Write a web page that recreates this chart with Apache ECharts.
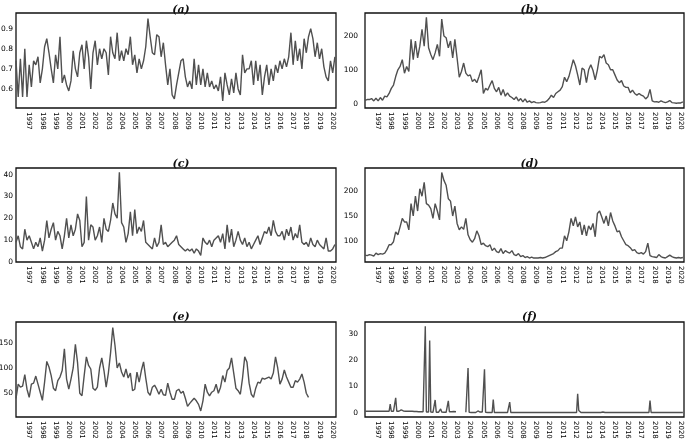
<!DOCTYPE html>
<html><head><meta charset="utf-8">
<script src="https://cdn.jsdelivr.net/npm/echarts@6/dist/echarts.min.js"></script>
<style>html,body{margin:0;padding:0;background:#fff}#c{width:685px;height:440px}</style>
</head><body><div id="c"></div>
<script>
// Time starts Jan 1996; panels a-e are read every two months, panel f monthly.
const START_YEAR = 1996;
const yearLabels = [1997,1998,1999,2000,2001,2002,2003,2004,2005,2006,2007,2008,2009,2010,2011,2012,2013,2014,2015,2016,2017,2018,2019,2020];
const panelTitles = ['(a)','(b)','(c)','(d)','(e)','(f)'];

const seriesA = [
 0.74,0.56,0.75,0.56,0.80,0.56,
 0.72,0.61,0.74,0.72,0.76,0.63,
 0.70,0.81,0.85,0.78,0.70,0.63,
 0.77,0.70,0.86,0.63,0.67,0.62,
 0.59,0.64,0.79,0.70,0.66,0.78,
 0.82,0.70,0.84,0.76,0.60,0.78,
 0.84,0.72,0.80,0.75,0.80,0.78,
 0.67,0.86,0.78,0.75,0.88,0.74,
 0.79,0.74,0.80,0.77,0.86,0.72,
 0.77,0.68,0.75,0.70,0.74,0.81,
 0.95,0.86,0.78,0.77,0.87,0.86,
 0.76,0.83,0.72,0.62,0.70,0.57,
 0.55,0.62,0.68,0.74,0.75,0.66,
 0.61,0.64,0.60,0.75,0.62,0.72,
 0.62,0.70,0.61,0.68,0.61,0.64,
 0.60,0.62,0.59,0.66,0.54,0.68,
 0.62,0.57,0.65,0.58,0.68,0.60,
 0.57,0.77,0.68,0.70,0.70,0.74,
 0.62,0.74,0.64,0.72,0.57,0.66,
 0.72,0.62,0.70,0.64,0.72,0.68,
 0.74,0.70,0.75,0.71,0.76,0.88,
 0.72,0.84,0.74,0.80,0.70,0.85,
 0.78,0.86,0.90,0.85,0.76,0.83,
 0.75,0.80,0.71,0.66,0.64,0.74,
 0.68,0.76
];
const seriesB = [
 10,12,12,15,8,16,
 8,18,10,22,20,30,
 45,55,80,100,110,130,
 90,110,95,190,130,185,
 135,170,220,170,255,165,
 145,130,150,175,140,250,
 200,195,165,185,135,190,
 135,78,95,120,90,82,
 85,65,72,62,80,100,
 30,45,40,55,68,45,
 35,48,25,42,22,32,
 22,18,12,20,8,15,
 5,14,4,8,3,6,
 3,2,3,5,4,8,
 15,25,18,30,35,40,
 50,78,65,80,105,130,
 112,85,55,105,100,62,
 100,115,98,70,100,140,
 135,145,120,115,100,100,
 85,70,62,68,52,48,
 48,32,40,30,25,30,
 25,22,14,20,42,8,
 5,6,4,8,5,3,
 5,9,3,2,1,2,
 2,5
];
const seriesC = [
 9,12,7,6,15,10,
 12,9,6,9,7,11,
 5,10,19,11,15,18,
 10,14,12,6,12,20,
 11,17,12,15,22,19,
 7,9,30,10,17,16,
 10,12,16,9,20,15,
 14,19,27,22,20,41,
 18,16,9,13,23,12,
 24,13,16,14,19,9,
 8,7,6,11,7,9,
 17,8,9,7,8,9,
 10,12,8,7,6,5,
 6,5,6,4,6,5,
 3,11,9,8,10,7,
 10,11,12,9,13,6,
 17,9,15,7,10,14,
 10,8,11,7,9,6,
 8,10,12,8,11,14,
 13,16,12,19,14,12,
 12,14,10,15,12,16,
 10,13,11,17,9,8,
 9,7,11,8,7,10,
 8,7,6,11,5,5,
 6,8
];
const seriesD = [
 71,70,72,71,69,75,
 72,74,73,75,82,92,
 92,98,118,112,128,145,
 138,138,122,175,150,190,
 160,205,190,218,175,172,
 165,145,175,160,142,238,
 222,212,185,180,150,170,
 135,122,128,123,145,112,
 102,97,104,120,110,92,
 95,90,88,92,80,85,
 78,76,84,74,80,77,
 75,80,72,70,74,68,
 70,66,68,65,67,65,
 65,65,66,65,66,68,
 70,72,74,78,80,85,
 85,110,100,118,145,130,
 148,128,138,112,132,110,
 130,122,135,108,155,160,
 148,135,150,130,157,140,
 130,118,120,108,100,92,
 90,86,80,82,76,74,
 76,73,78,95,70,68,
 67,66,72,68,66,65,
 68,71,68,66,65,66,
 65,66
];
const seriesE = [
 40,68,62,64,87,58,
 42,68,70,84,68,52,
 36,72,113,102,85,60,
 55,75,82,95,138,78,
 58,78,100,147,110,50,
 45,85,122,105,98,60,
 56,62,100,120,95,62,
 90,130,180,145,100,110,
 92,82,98,80,90,55,
 58,92,72,95,112,80,
 52,46,62,66,58,48,
 58,47,46,70,52,38,
 38,55,58,50,54,40,
 24,30,35,40,35,28,
 15,35,68,52,45,52,
 55,68,50,62,85,72,
 95,100,120,90,60,55,
 48,80,122,112,70,48,
 42,60,72,70,80,78,
 80,82,78,90,122,100,
 68,78,96,82,72,62,
 62,75,72,78,88,72,
 50,42
];
const seriesF = [
 0.5,0.5,0.5,0.5,0.5,0.5,0.5,0.5,0.5,0.5,0.5,0.5,
 0.5,0.5,0.5,0.5,0.5,0.5,0.5,0.5,0.5,0.5,0.5,3.2,
 0.5,0.5,0.5,0.5,5.6,0.5,0.5,0.5,0.5,1.0,1.3,0.6,
 0.5,0.5,0.5,0.5,0.5,0.5,0.5,0.5,0.5,0.4,0.4,0.4,
 0.3,0.3,0.3,0.3,0.3,0.3,0.2,33,0.2,0.2,0.2,27.5,
 0.2,0.1,0.1,0.1,4.8,0.1,0.1,0.1,0.3,1.4,0.2,0.1,
 0.1,0.1,0.1,0.2,4.5,0.3,0.5,0.3,0.6,0.4,0.5,0.3,
 null,null,null,null,null,null,null,null,0.1,0.1,17,0.1,
 0,0,0,0,0,0,0.5,0.6,0.3,0.2,0.3,0.2,
 0.1,16.5,0.1,0,0,0,0,0,0,5,0,0,
 0,0,0,0,0,0,0,0,0,0,0,0,
 4,0,0,0,0,0,0,0,0,0,0,0,
 0,0,0,0,0,0,0,0,0,0,0,0,
 0,0,0,0,0,0,0,0,0,0,0,0,
 0,0,0,0,0,0,0,0,0,0,0,0,
 0,0,0,0,0,0,0,0,0,0,0,0,
 0,0,7.2,0.8,0.2,0,0,0,0,0,0,0,
 0,0,0,0,0,0,0,0,0,0,0,0,
 0.6,0.2,0,0,0,0,0,0,0,0,0,0,
 0,0,0,0,0,0,0,0,0,0,0,0,
 0,0,0,0,0,0,0,0,0,0,0,0,
 0,0,0,0,0,0,0,0,4.6,0,0,0,
 0,0,0,0,0,0,0,0,0,0,0,0,
 0,0,0,0,0,0,0,0,0,0,0,0,
 0,0,0
];

const allSeries = [seriesA, seriesB, seriesC, seriesD, seriesE, seriesF];
const steps = [1/6, 1/6, 1/6, 1/6, 1/6, 1/12];
const yMin = [0.505, -13, 0, 57, 3, -1.7];
const yMax = [0.978, 268, 43, 247, 191, 34.6];
const ySplit = [5, 3, 4, 4, 4, 4];
const yHideMin = [true, true, false, true, true, true];

const colLeft = [16, 365], colWidth = [320, 319];
const rowTop = [13, 168, 322], rowHeight = [95, 94, 95];
const titleTop = [0, 154, 307];

const grids = [], xAxes = [], yAxes = [], series = [], titles = [];
for (let k = 0; k < 6; k++) {
  const r = Math.floor(k / 2), c = k % 2;
  grids.push({left: colLeft[c], width: colWidth[c], top: rowTop[r], height: rowHeight[r],
    outerBoundsMode: 'none', containLabel: false,
    show: true, borderColor: '#111', borderWidth: 1.3, backgroundColor: 'transparent'});
  titles.push({text: panelTitles[k], left: colLeft[c] + colWidth[c] / 2, top: titleTop[r], textAlign: 'center',
    textStyle: {fontFamily: 'DejaVu Serif', fontStyle: 'italic', fontWeight: 'bold', fontSize: 11, color: '#111'}});
  xAxes.push({type: 'value', gridIndex: k, min: START_YEAR, max: 2020.25, interval: 1,
    axisLine: {show: false}, axisTick: {show: false}, splitLine: {show: false},
    axisLabel: {rotate: -90, fontSize: 7, fontFamily: 'DejaVu Sans', color: '#000', margin: 4,
      showMinLabel: false, showMaxLabel: false,
      formatter: v => (yearLabels.indexOf(Math.round(v)) >= 0 ? String(Math.round(v)) : '')}});
  yAxes.push({type: 'value', gridIndex: k, min: yMin[k], max: yMax[k], splitNumber: ySplit[k],
    axisLine: {show: false}, axisTick: {show: false}, splitLine: {show: false},
    axisLabel: {fontSize: 7.5, fontFamily: 'DejaVu Sans', color: '#000', margin: c === 0 ? 3 : 7,
      showMinLabel: !yHideMin[k], showMaxLabel: false}});
  const arr = allSeries[k];
  series.push({type: 'line', xAxisIndex: k, yAxisIndex: k, showSymbol: false, symbol: 'none',
    connectNulls: false, animation: false,
    lineStyle: {color: '#505050', width: 1.4},
    data: arr.map((v, i) => [START_YEAR + i * steps[k], v == null ? '-' : v])});
}

const chart = echarts.init(document.getElementById('c'), null, {renderer: 'canvas'});
chart.setOption({animation: false, backgroundColor: '#fff', title: titles, grid: grids, xAxis: xAxes, yAxis: yAxes, series: series});
</script></body></html>
